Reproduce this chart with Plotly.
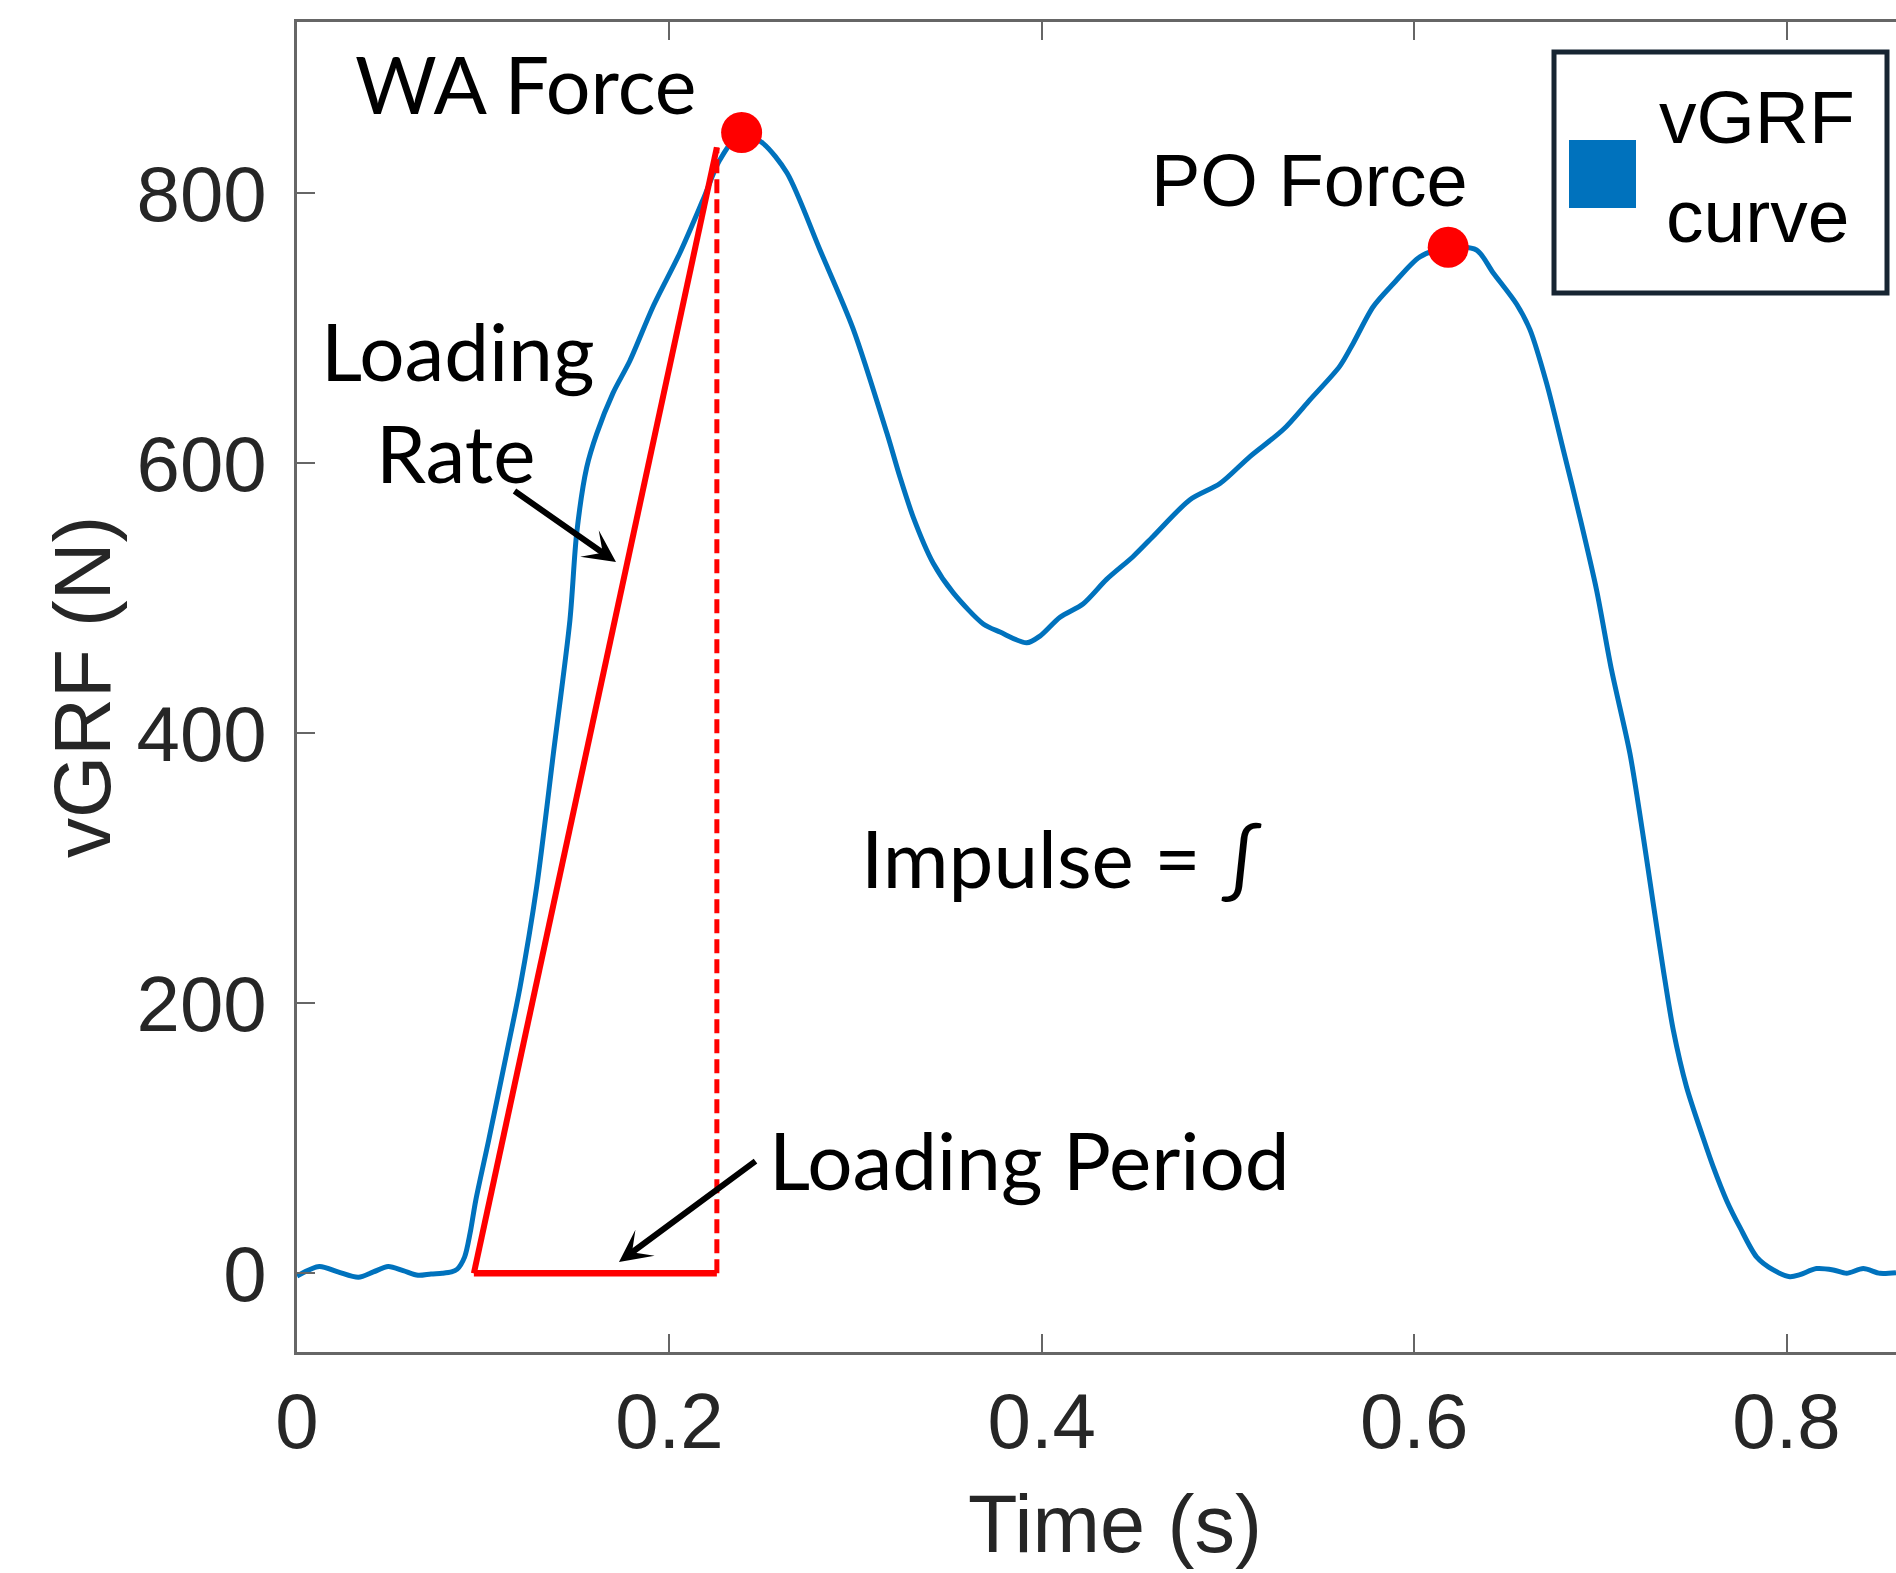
import plotly.graph_objects as go

# ---------------- data ----------------
time_s = [0.000, 0.012, 0.022, 0.033, 0.041, 0.049, 0.057, 0.065, 0.072, 0.078,
          0.083, 0.086, 0.090, 0.093, 0.096, 0.103, 0.1126, 0.1198, 0.1287, 0.1377,
          0.1466, 0.1502, 0.1556, 0.1610, 0.1697, 0.1788, 0.1912, 0.2057, 0.2180, 0.2272,
          0.2388, 0.2503, 0.2632, 0.2809, 0.2986, 0.3169, 0.3238, 0.3310, 0.3417, 0.3525,
          0.3686, 0.3776, 0.3919, 0.3990, 0.4098, 0.4223, 0.4348, 0.4491, 0.4599, 0.4796,
          0.4957, 0.5118, 0.5297, 0.5440, 0.5601, 0.5673, 0.5780, 0.5888, 0.6031, 0.6183,
          0.6335, 0.6425, 0.6550, 0.6622, 0.6712, 0.6801, 0.6890, 0.6980, 0.7060, 0.7159,
          0.7231, 0.7284, 0.7338, 0.7392, 0.7463, 0.7553, 0.7606, 0.7678, 0.7750, 0.7840,
          0.7929, 0.8018, 0.8072, 0.8161, 0.8251, 0.8323, 0.8412, 0.8502, 0.8588]
vgrf_n = [-2, 5, 1, -3, 1, 5, 2, -1.5, -0.5, 0,
          1, 3, 12, 30, 54, 99, 163, 212, 286, 385,
          484, 548, 597, 622, 652, 676, 716, 756, 795, 825,
          845, 837, 815, 758, 700, 622, 590, 560, 526, 504,
          481, 475, 467, 472, 486, 496, 514, 531, 546, 573,
          585, 605, 625, 647, 672, 689, 716, 733, 753, 760,
          758, 741, 718, 699, 659, 610, 560, 506, 447, 385,
          323, 274, 225, 180, 138, 100, 79, 54, 34, 12,
          2.5, -2.5, -1, 3.5, 2.5, 0, 3.5, 0, 0.5]

wa_time, wa_force = 0.2388, 845      # weight-acceptance peak
po_time, po_force = 0.6183, 760      # push-off peak
load_start_t, load_end_t, load_top_f = 0.095, 0.2255, 834

x_ticks = [0, 0.2, 0.4, 0.6, 0.8]
x_labels = ["0", "0.2", "0.4", "0.6", "0.8"]
y_ticks = [0, 200, 400, 600, 800]
y_labels = ["0", "200", "400", "600", "800"]
x_range = [0, 0.8588]
y_range = [-58.3, 926.9]

# ---------------- layout helpers (pixel -> paper) ----------------
W, H = 1896, 1573
ML, MR, MT, MB = 297, 0, 22, 221
def px(x):
    return (x - ML) / (W - ML - MR)
def py(y):
    return (H - MB - y) / (H - MT - MB)

BLUE = "#0072BD"
RED = "#FF0000"
AXC = "#666666"
TXT = "#262626"
SANS = "Liberation Sans, Arial, sans-serif"
ALT = "Lato, Noto Sans, sans-serif"

fig = go.Figure()
fig.add_trace(go.Scatter(x=time_s, y=vgrf_n, mode="lines", name="vGRF curve",
                         line=dict(color=BLUE, width=5, shape="spline", smoothing=0.8),
                         showlegend=False))
fig.add_trace(go.Scatter(x=[load_start_t, load_end_t], y=[0, load_top_f], mode="lines",
                         line=dict(color=RED, width=6), showlegend=False))
fig.add_trace(go.Scatter(x=[load_start_t, load_end_t], y=[0, 0], mode="lines",
                         line=dict(color=RED, width=6.5), showlegend=False))
fig.add_trace(go.Scatter(x=[load_end_t, load_end_t], y=[0, load_top_f], mode="lines",
                         line=dict(color=RED, width=5, dash="14px,6px"), showlegend=False))
fig.add_trace(go.Scatter(x=[wa_time, po_time], y=[wa_force, po_force], mode="markers",
                         marker=dict(color=RED, size=41), showlegend=False))

ann = []
def text(s, x, y, size, font=ALT, color="black", **kw):
    ann.append(dict(text=s, x=px(x), y=py(y), xref="paper", yref="paper",
                    showarrow=False, xanchor="center", yanchor="middle",
                    font=dict(family=font, size=size, color=color), **kw))

text("WA Force", 525, 84, 79)
text("Loading", 458, 350, 80)
text("Rate", 455, 452, 80)
text("Impulse = \u222b", 1061, 857, 80)
text("Loading Period", 1029, 1159, 80)
text("PO Force", 1309, 180, 74, font=SANS)
text("vGRF", 1757, 117, 75, font=SANS)
text("curve", 1757, 216, 75, font=SANS)
text("Time (s)", 1115, 1524, 81, font=SANS, color=TXT)
text("vGRF (N)", 82, 687, 80, font=SANS, color=TXT, textangle=-90)

def arrow(x0, y0, x1, y1):
    ann.append(dict(text="", x=px(x1), y=py(y1), ax=x0 - x1, ay=y0 - y1,
                    xref="paper", yref="paper", axref="pixel", ayref="pixel",
                    showarrow=True, arrowhead=3, arrowsize=0.9, arrowwidth=6,
                    arrowcolor="black"))

arrow(513, 490, 616, 562)
arrow(757, 1160, 619, 1262)

shapes = [
    dict(type="rect", xref="paper", yref="paper", x0=px(1554), x1=px(1887),
         y0=py(293), y1=py(52), line=dict(color="#172532", width=5), fillcolor="white",
         layer="above"),
    dict(type="rect", xref="paper", yref="paper", x0=px(1569), x1=px(1636),
         y0=py(208), y1=py(140), line=dict(width=0), fillcolor=BLUE, layer="above"),
]

fig.update_layout(
    width=W, height=H,
    margin=dict(l=ML, r=MR, t=MT, b=MB, pad=0),
    paper_bgcolor="white", plot_bgcolor="white",
    annotations=ann, shapes=shapes,
    xaxis=dict(range=x_range, tickvals=x_ticks, ticktext=x_labels, ticks="inside",
               ticklen=18, tickwidth=2, tickcolor=AXC, showline=True, linecolor=AXC,
               linewidth=2.5, mirror="ticks", showgrid=False, zeroline=False,
               tickfont=dict(family=SANS, size=78, color=TXT), ticklabelstandoff=0),
    yaxis=dict(range=y_range, tickvals=y_ticks, ticktext=y_labels, ticks="inside",
               ticklen=18, tickwidth=2, tickcolor=AXC, showline=True, linecolor=AXC,
               linewidth=2.5, mirror=False, showgrid=False, zeroline=False,
               tickfont=dict(family=SANS, size=78, color=TXT), ticklabelstandoff=12),
)
fig.write_html("out.html")
